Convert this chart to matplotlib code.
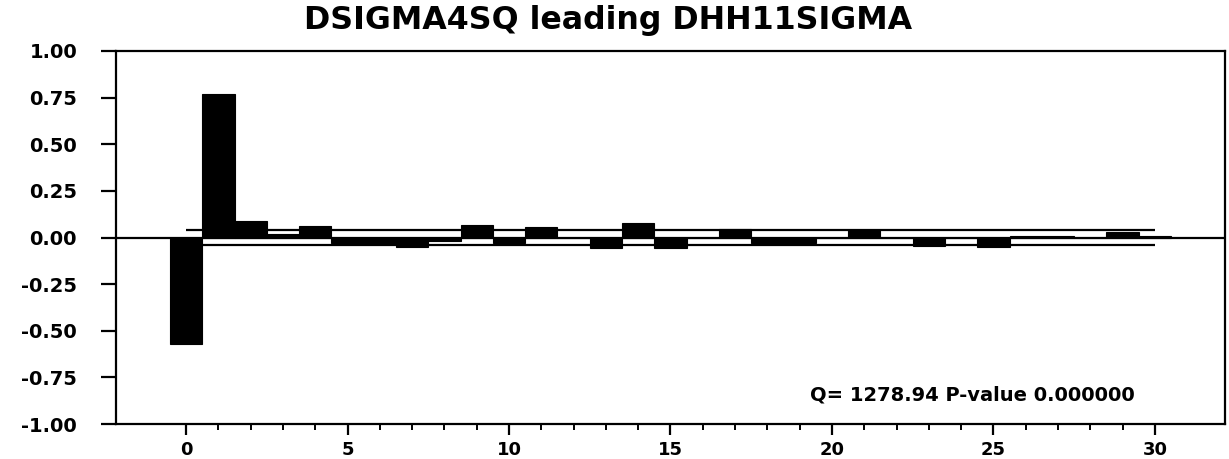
import matplotlib
matplotlib.use("Agg")
import matplotlib.pyplot as plt
from matplotlib.ticker import FixedLocator

# Cross-correlations of DSIGMA4SQ leading DHH11SIGMA, lags 0..30
lags = list(range(31))
ccf = [-0.57, 0.77, 0.09, 0.02, 0.06, -0.03, -0.03, -0.05, -0.02, 0.065,
       -0.03, 0.056, 0.0, -0.055, 0.08, -0.055, 0.0, 0.045, -0.03, -0.03,
       0.0, 0.04, 0.0, -0.045, 0.0, -0.05, 0.01, 0.01, 0.0, 0.03, 0.01]
band = 0.04
y_ticks = [1.00, 0.75, 0.50, 0.25, 0.00, -0.25, -0.50, -0.75, -1.00]
x_ticks = [0, 5, 10, 15, 20, 25, 30]
title = "DSIGMA4SQ leading DHH11SIGMA"
q_text = "Q= 1278.94 P-value 0.000000"

W, H = 1229, 459
fig = plt.figure(figsize=(W / 100, H / 100), dpi=100)
left, right, top, bottom = 116, 1225, 51, 424
ax = fig.add_axes([left / W, 1 - bottom / H, (right - left) / W, (bottom - top) / H])

ax.bar(lags, ccf, width=1.0, color="black", edgecolor="black", linewidth=0.8, zorder=3)
ax.axhline(0, color="black", linewidth=1.6, zorder=2)
ax.hlines([band, -band], lags[0], lags[-1], color="black", linewidth=1.6, zorder=2)

ax.set_xlim(-2.17, 32.17)
ax.set_ylim(-1.0, 1.0)
ax.yaxis.set_major_locator(FixedLocator(y_ticks))
ax.set_yticklabels([f"{v:.2f}" for v in y_ticks])
ax.xaxis.set_major_locator(FixedLocator(x_ticks))
ax.xaxis.set_minor_locator(FixedLocator([l for l in lags if l not in x_ticks]))
ax.set_xticklabels([str(v) for v in x_ticks])

for s in ax.spines.values():
    s.set_linewidth(1.6)

ax.tick_params(axis="y", direction="out", length=11, width=1.6, pad=17)
ax.tick_params(axis="x", which="major", direction="out", length=8, width=1.6, pad=4)
ax.tick_params(axis="x", which="minor", direction="out", length=4, width=1.4)
for lbl in ax.get_yticklabels():
    lbl.set_fontfamily("DejaVu Sans")
    lbl.set_fontweight("bold")
    lbl.set_fontsize(14)
for lbl in ax.get_xticklabels():
    lbl.set_fontfamily("DejaVu Sans")
    lbl.set_fontweight("bold")
    lbl.set_fontsize(13)

fig.text(608 / W, 1 - 21 / H, title, ha="center", va="center",
         fontsize=22.8, fontweight="bold", family="DejaVu Sans")
ax.text((1135 - left) / (right - left), (bottom - 395) / (bottom - top), q_text,
        transform=ax.transAxes, ha="right", va="center",
        fontsize=14, fontweight="semibold", family="DejaVu Sans")

fig.savefig("out.png", dpi=100, facecolor="white")
